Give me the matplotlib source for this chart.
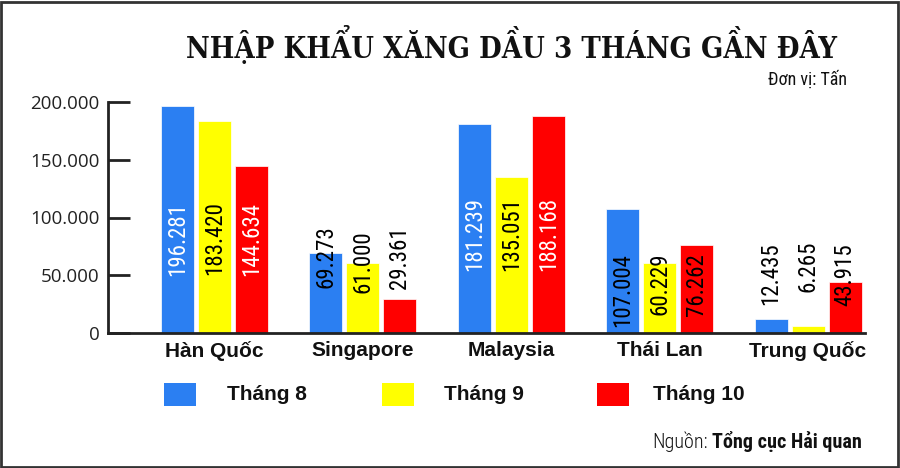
import matplotlib
matplotlib.use("Agg")
import matplotlib.pyplot as plt
from matplotlib.patches import Rectangle
from matplotlib import font_manager as fm
from matplotlib.ft2font import FT2Font
import numpy as np

# ---- data ----
categories = ["Hàn Quốc", "Singapore", "Malaysia", "Thái Lan", "Trung Quốc"]
series_names = ["Tháng 8", "Tháng 9", "Tháng 10"]
thang8 = [196281, 69273, 181239, 107004, 12435]
thang9 = [183420, 61000, 135051, 60229, 6265]
thang10 = [144634, 29361, 188168, 76262, 43915]
yticks = [0, 50000, 100000, 150000, 200000]
ytick_labels = ["0", "50.000", "100.000", "150.000", "200.000"]

# ---- style / layout ----
colors = ["#2b7ff2", "#ffff00", "#ff0000"]
label_y = [
    [81800, 65800, 86100, 37200, 51100],
    [81800, 61500, 86100, 42400, 57600],
    [81800, 65000, 86100, 42000, 50200],
]
label_colors = [
    ["white", "black", "white", "black", "black"],
    ["black", "black", "black", "black", "black"],
    ["white", "black", "white", "black", "black"],
]

names = {f.name for f in fm.fontManager.ttflist}
def pick(*cands):
    for c in cands:
        if c in names:
            return c
    return "DejaVu Sans"

def pick_bold(text, *cands):
    need = [ord(ch) for ch in set(text) if ch != " "]
    for c, stretch in cands:
        for f in fm.fontManager.ttflist:
            if (f.name == c and f.weight >= 700 and f.style == "normal" and "[" not in f.fname
                    and (stretch is None or f.stretch == stretch)):
                try:
                    cmap = FT2Font(f.fname).get_charmap()
                except Exception:
                    continue
                if all(n in cmap for n in need):
                    return fm.FontProperties(fname=f.fname)
    return fm.FontProperties(family="DejaVu Serif", weight="bold")

TITLE = "NHẬP KHẨU XĂNG DẦU 3 THÁNG GẦN ĐÂY"
NARROW = pick("Roboto Condensed", "Archivo Narrow", "PT Sans Narrow", "Liberation Sans")
TICKF = pick("Open Sans", "Liberation Sans")
title_fp = pick_bold(TITLE,
                     ("DejaVu Serif", "condensed"), ("Noto Serif", "condensed"),
                     ("Noto Serif", "semi-condensed"), ("Rokkitt", None), ("Roboto Slab", None),
                     ("Bitter", None), ("Noto Serif", None), ("DejaVu Serif", None))

def fmt(v):
    return f"{v:,}".replace(",", ".")

W, H = 900, 468
fig = plt.figure(figsize=(W / 100, H / 100), dpi=100)
fig.patch.set_facecolor("white")

ax = fig.add_axes([108 / W, 1 - 333 / H, (865 - 108) / W, (333 - 102) / H])
ax.set_facecolor("none")

x = np.arange(len(categories))
bw = 0.2224
step = 0.2493
series = [thang8, thang9, thang10]
for i, vals in enumerate(series):
    xs = x + (i - 1) * step
    ax.bar(xs, vals, width=bw, color=colors[i], edgecolor="white", linewidth=0.5, zorder=2)
    for j, v in enumerate(vals):
        ax.text(xs[j], label_y[i][j], fmt(v), rotation=90, ha="center", va="center",
                fontsize=16.5, family=NARROW, color=label_colors[i][j], zorder=3)

ax.set_xlim(-0.7177, 4.384)
ax.set_ylim(0, 200000)
ax.set_yticks(yticks)
ax.set_yticklabels(ytick_labels, family=TICKF, fontsize=13.5, color="#222222")
ax.tick_params(axis="y", direction="in", length=16, width=2, pad=6, color="#222222")
ax.set_xticks(x)
ax.set_xticklabels(categories, family="Liberation Sans", fontweight="bold", fontsize=15, color="#111111")
ax.tick_params(axis="x", length=0, pad=6)
for s in ["top", "right"]:
    ax.spines[s].set_visible(False)
for s in ["left", "bottom"]:
    ax.spines[s].set_linewidth(2)
    ax.spines[s].set_color("#222222")

# title (fit to reference width)
title = fig.text(511 / W, 1 - 45 / H, TITLE, ha="center", va="center",
                 fontproperties=title_fp, color="#111111")
title.set_fontsize(24)
fig.canvas.draw()
tw = title.get_window_extent().width
title.set_fontsize(24 * 652 / tw)

fig.text(847 / W, 1 - 79 / H, "Đơn vị: Tấn", ha="right", va="center",
         family=NARROW, fontsize=13, color="#111111")

# legend
sq_x = [164, 382, 597]
tx_x = [227, 444, 653]
for i, name in enumerate(series_names):
    fig.patches.append(Rectangle((sq_x[i] / W, 1 - 406 / H), 32 / W, 23 / H, transform=fig.transFigure,
                                 facecolor=colors[i], edgecolor="none"))
    fig.text(tx_x[i] / W, 1 - 395 / H, name, ha="left", va="center", family="Liberation Sans",
             fontweight="bold", fontsize=15, color="#111111")

# source
t1 = fig.text(862 / W, 1 - 442 / H, "Tổng cục Hải quan", ha="right", va="center", family=NARROW,
              fontweight="bold", fontsize=14.5, color="#111111")
fig.canvas.draw()
bb = t1.get_window_extent()
fig.text((bb.x0 - 4) / W, 1 - 442 / H, "Nguồn:", ha="right", va="center", family=NARROW,
         fontweight="light", fontsize=14.5, color="#111111")

# border
fig.patches.append(Rectangle((1 / W, 1 / H), (W - 3) / W, (H - 3) / H, transform=fig.transFigure,
                             facecolor="none", edgecolor="#333333", linewidth=2))

fig.savefig("out.png", dpi=100)
